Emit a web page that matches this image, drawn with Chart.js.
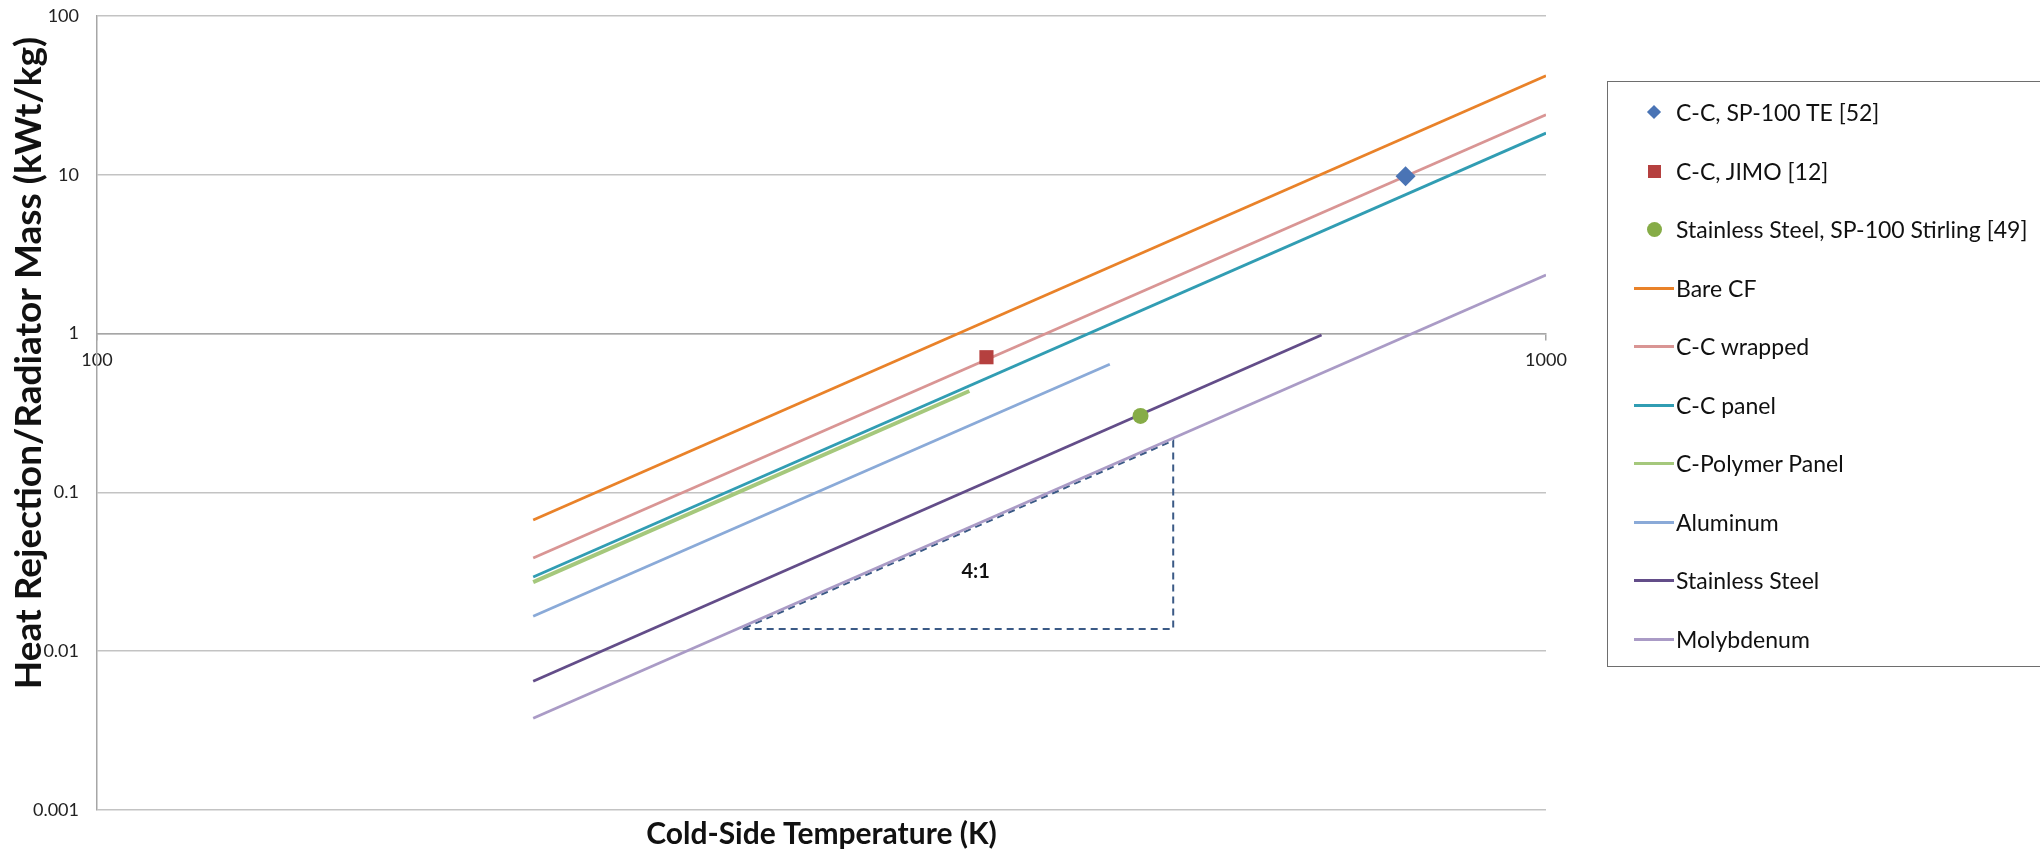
<!DOCTYPE html>
<html>
<head>
<meta charset="utf-8">
<script src="https://cdn.jsdelivr.net/npm/chart.js@4.4.1/dist/chart.umd.min.js"></script>
<style>
  html, body { margin: 0; padding: 0; background: #fff; }
  #wrap { position: relative; width: 2040px; height: 854px; overflow: hidden; }
  #legend {
    position: absolute; left: 1607px; top: 81px; width: 470px; height: 586px;
    border: 1.5px solid #6e6e6e; box-sizing: border-box;
    font-family: Lato, sans-serif; font-size: 23px; color: #111;
  }
  #legend .item { position: absolute; left: 0; width: 440px; height: 30px; }
  #legend .txt { position: absolute; left: 68px; top: 0; line-height: 30px; white-space: nowrap; }
  #legend .swatch { position: absolute; }
</style>
</head>
<body>
<div id="wrap">
  <canvas id="chart" width="2040" height="854"></canvas>
  <div id="legend"></div>
</div>
<script>
// point references
var markerNames = ['C-C, SP-100 TE [52]', 'C-C, JIMO [12]', 'Stainless Steel, SP-100 Stirling [49]'];
var markerT = [800, 411, 525];
var markerQ = [9.8, 0.71, 0.303];
var markerColors = ['#4a74b5', '#b5403f', '#86ac47'];
var markerStyles = ['rectRot', 'rect', 'circle'];

// material curves (start / end of each line)
var lineNames = ['Bare CF', 'C-C wrapped', 'C-C panel', 'C-Polymer Panel', 'Aluminum', 'Stainless Steel', 'Molybdenum'];
var lineStartT = [200, 200, 200, 200, 200, 200, 200];
var lineEndT = [1000, 1000, 1000, 400, 500, 700, 1000];
var lineStartQ = [0.067, 0.0386, 0.0293, 0.0272, 0.0166, 0.00647, 0.00378];
var lineEndQ = [42.0, 23.9, 18.3, 0.435, 0.641, 0.98, 2.34];
var lineColors = ['#e98229', '#d99594', '#319db3', '#a5c87c', '#8aaad8', '#634d89', '#aa9bc6'];

// 4:1 slope triangle
var slopeT = [279, 553, 553, 279];
var slopeQ = [0.0138, 0.0138, 0.212, 0.0138];
var slopeText = '4:1';
var slopeTextT = 404;
var slopeTextQ = 0.0316;

var xTicks = [100, 1000];
var yTicks = [0.001, 0.01, 0.1, 1, 10, 100];
var yTickLabels = ['0.001', '0.01', '0.1', '1', '10', '100'];
var xTitle = 'Cold-Side Temperature (K)';
var yTitle = 'Heat Rejection/Radiator Mass (kWt/kg)';

Chart.defaults.font.family = 'Lato, sans-serif';

var datasets = [];
markerNames.forEach(function (name, i) {
  datasets.push({
    label: name,
    data: [{ x: markerT[i], y: markerQ[i] }],
    showLine: false,
    pointStyle: markerStyles[i],
    pointRadius: markerStyles[i] == 'circle' ? 8 : 10,
    backgroundColor: markerColors[i],
    borderColor: markerColors[i],
    borderWidth: 0,
    marker: markerStyles[i]
  });
});
lineNames.forEach(function (name, i) {
  datasets.push({
    label: name,
    data: [{ x: lineStartT[i], y: lineStartQ[i] }, { x: lineEndT[i], y: lineEndQ[i] }],
    showLine: true,
    borderColor: lineColors[i],
    backgroundColor: lineColors[i],
    borderWidth: name == 'C-Polymer Panel' ? 4 : 2.8,
    pointRadius: 0
  });
});
datasets.push({
  label: 'slope',
  data: slopeT.map(function (t, i) { return { x: t, y: slopeQ[i] }; }),
  showLine: true,
  borderColor: '#3b5a86',
  borderWidth: 2,
  borderDash: [7, 5],
  pointRadius: 0,
  hideInLegend: true
});

var textPlugin = {
  id: 'texts',
  afterDatasetsDraw: function (chart) {
    var ctx = chart.ctx;
    var x = chart.scales.x, y = chart.scales.y;
    ctx.save();
    ctx.fillStyle = '#111';
    ctx.textAlign = 'center';
    ctx.textBaseline = 'middle';
    ctx.font = 'bold 20px Lato, sans-serif';
    ctx.fillText(slopeText, x.getPixelForValue(slopeTextT), y.getPixelForValue(slopeTextQ));

    ctx.font = 'bold 30px Lato, sans-serif';
    ctx.fillText(xTitle, (chart.chartArea.left + chart.chartArea.right) / 2, 834);

    ctx.translate(29, 363);
    ctx.rotate(-Math.PI / 2);
    ctx.font = 'bold 37px Lato, sans-serif';
    ctx.fillText(yTitle, 0, 0);
    ctx.restore();
  }
};

var chart = new Chart(document.getElementById('chart').getContext('2d'), {
  type: 'scatter',
  data: { datasets: datasets },
  options: {
    responsive: false,
    animation: false,
    devicePixelRatio: 1,
    layout: { padding: { top: 16, right: 494, bottom: 44, left: 0 } },
    plugins: { legend: { display: false }, tooltip: { enabled: false } },
    elements: { line: { tension: 0 } },
    scales: {
      x: {
        type: 'logarithmic',
        min: 100,
        max: 1000,
        position: { y: 1 },
        afterBuildTicks: function (s) { s.ticks = xTicks.map(function (v) { return { value: v }; }); },
        ticks: {
          callback: function (v) { return String(v); },
          color: '#222', font: { size: 18 }, padding: 10, maxRotation: 0, autoSkip: false
        },
        grid: { drawOnChartArea: false, drawTicks: true, tickLength: 6, color: '#a6a6a6', lineWidth: 1.5 },
        border: { color: '#a6a6a6', width: 1.5 }
      },
      y: {
        type: 'logarithmic',
        min: 0.001,
        max: 100,
        position: 'left',
        afterBuildTicks: function (s) { s.ticks = yTicks.map(function (v) { return { value: v }; }); },
        afterFit: function (s) { s.width = 97; s.paddingTop = 0; s.paddingBottom = 0; },
        ticks: {
          callback: function (v, i) { return yTickLabels[i]; },
          color: '#222', font: { size: 18 }, padding: 18, autoSkip: false
        },
        grid: { color: '#c3c3c3', lineWidth: 1.5, drawTicks: false },
        border: { color: '#a6a6a6', width: 1.5 }
      }
    }
  },
  plugins: [textPlugin]
});

// html legend built from the chart datasets
var legend = document.getElementById('legend');
chart.data.datasets.filter(function (d) { return !d.hideInLegend; }).forEach(function (d, i) {
  var item = document.createElement('div');
  item.className = 'item';
  item.style.top = (30 + i * 58.5 - 15) + 'px';
  var sw = document.createElement('div');
  sw.className = 'swatch';
  if (d.marker == 'rectRot') {
    sw.style.cssText = 'left:41px;top:10px;width:10px;height:10px;transform:rotate(45deg);background:' + d.backgroundColor;
  } else if (d.marker == 'rect') {
    sw.style.cssText = 'left:40px;top:9px;width:13px;height:13px;background:' + d.backgroundColor;
  } else if (d.marker == 'circle') {
    sw.style.cssText = 'left:39px;top:8px;width:15px;height:15px;border-radius:50%;background:' + d.backgroundColor;
  } else {
    sw.style.cssText = 'left:26px;top:14px;width:40px;height:3px;background:' + d.borderColor;
  }
  var t = document.createElement('div');
  t.className = 'txt';
  t.textContent = d.label;
  item.appendChild(sw);
  item.appendChild(t);
  legend.appendChild(item);
});
</script>
</body>
</html>
